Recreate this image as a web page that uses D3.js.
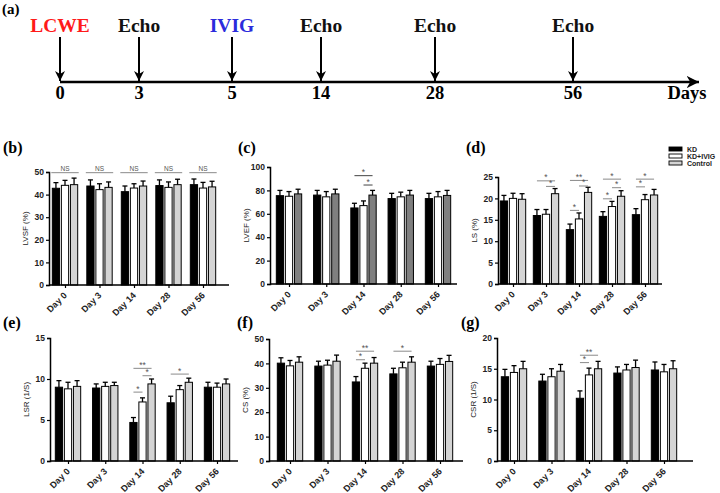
<!DOCTYPE html>
<html>
<head>
<meta charset="utf-8">
<script src="https://cdn.jsdelivr.net/npm/d3@7"></script>
<style>
  body { margin: 0; background: #fff; }
  svg { display: block; }
</style>
</head>
<body>
<svg id="chart" width="720" height="493" viewBox="0 0 720 493"></svg>
<script>
// ---- data ----
const days = ["Day 0", "Day 3", "Day 14", "Day 28", "Day 56"];
const groups = ["KD", "KD+IVIG", "Control"];

const tlDays = [0, 3, 5, 14, 28, 56];
const tlEvents = ["LCWE", "Echo", "IVIG", "Echo", "Echo", "Echo"];

// LVSF (%)
const lvsfKD = [42.8, 43.8, 41.3, 44.0, 44.4];
const lvsfIVIG = [44.1, 42.2, 42.9, 43.2, 42.9];
const lvsfCtrl = [44.4, 43.2, 43.8, 44.4, 43.4];
const lvsfErr = [[2.5, 2.7, 2.5, 2.5, 2.5], [2.2, 2.6, 1.9, 2.4, 2.5], [2.9, 2.4, 2.2, 2.4, 2.5]];
const lvsfSig = [[0, 0, 49.7, "NS", "NS"], [1, 0, 49.7, "NS", "NS"], [2, 0, 49.7, "NS", "NS"], [3, 0, 49.7, "NS", "NS"], [4, 0, 49.7, "NS", "NS"]];

// LVEF (%)
const lvefKD = [75.5, 76, 65, 73, 73];
const lvefIVIG = [75, 74.5, 67, 74.5, 74.5];
const lvefCtrl = [77, 77, 76, 76, 75.7];
const lvefErr = [[4.5, 4, 4, 4.5, 4.5], [4, 4.5, 4, 4, 4.5], [4, 4, 4, 4, 4.3]];
const lvefSig = [[2, 0, 92.6, "*"], [2, 1, 84.6, "*"]];

// LS (%)
const lsKD = [19.4, 16, 12.7, 15.8, 16.2];
const lsIVIG = [20, 16.3, 15.2, 18.1, 19.7];
const lsCtrl = [19.8, 21.1, 21.4, 20.5, 20.8];
const lsErr = [[1.3, 1.4, 1.3, 1.1, 1.4], [1.2, 1.1, 1.4, 1.2, 1.2], [1.3, 1.2, 1.2, 1.3, 1.3]];
const lsSig = [[1, 0, 24.1, "*"], [1, 1, 22.8, "*"],
  [2, 0, 24.2, "**"], [2, 1, 22.9, "*"], [2, 2, 17.2, "*"],
  [3, 0, 24.5, "*"], [3, 1, 22.5, "*"], [3, 2, 19.9, "*"],
  [4, 0, 24.5, "*"], [4, 2, 22.7, "*"]];

// LSR (1/S)
const lsrKD = [9, 8.9, 4.7, 7.1, 9];
const lsrIVIG = [8.8, 9.1, 7.2, 8.7, 9];
const lsrCtrl = [9.1, 9.2, 9.4, 9.6, 9.4];
const lsrErr = [[0.8, 0.5, 0.6, 0.8, 0.6], [0.8, 0.5, 0.5, 0.5, 0.5], [0.7, 0.4, 0.6, 0.5, 0.6]];
const lsrSig = [[2, 0, 11.3, "**"], [2, 1, 10.4, "*"], [2, 2, 8.4, "*"], [3, 0, 10.6, "*"]];

// CS (%)
const csKD = [40.1, 38.9, 32.4, 35.7, 38.9];
const csIVIG = [39, 39.3, 38, 38.2, 39.6];
const csCtrl = [40.5, 40.9, 40.1, 40.5, 40.8];
const csErr = [[2.2, 2, 2.2, 2.3, 2], [2.2, 2, 2.1, 2.3, 2.4], [2.2, 2.5, 2.3, 2.2, 2.5]];
const csSig = [[2, 0, 45, "**"], [2, 2, 41.5, "*"], [3, 0, 45, "*"]];

// CSR (1/S)
const csrKD = [13.7, 13, 10.2, 14.3, 14.8];
const csrIVIG = [14.4, 13.7, 14, 14.8, 14.5];
const csrCtrl = [15, 14.6, 15, 15.2, 15];
const csrErr = [[1.2, 1.1, 1.2, 1, 1.3], [1.1, 1.3, 1.1, 0.9, 1.2], [1.2, 1.1, 1.2, 1.2, 1.3]];
const csrSig = [[2, 0, 17.2, "**"], [2, 2, 16, "*"]];

// ---- drawing ----
const svg = d3.select("#chart");
const serif = "'Liberation Serif', 'Times New Roman', serif";
const sans = "'Liberation Sans', Arial, sans-serif";

// timeline (a)
const tx = d3.scaleLinear().domain(tlDays).range([60, 139, 232, 321, 435, 573]);
const axisY = 82;

svg.append("text").attr("x", 2).attr("y", 14)
  .attr("font-family", serif).attr("font-weight", "bold").attr("font-size", 15)
  .text("(a)");

svg.append("defs").append("marker")
  .attr("id", "ah").attr("viewBox", "0 0 10 10").attr("refX", 10).attr("refY", 5)
  .attr("markerWidth", 5).attr("markerHeight", 5).attr("markerUnits", "strokeWidth")
  .attr("orient", "auto")
  .append("path").attr("d", "M0,0 L10,5 L0,10 L3,5 Z").attr("fill", "#000");

svg.append("line").attr("x1", tx(0)).attr("x2", 699).attr("y1", axisY).attr("y2", axisY)
  .attr("stroke", "#000").attr("stroke-width", 2.5).attr("marker-end", "url(#ah)");

const evColor = { LCWE: "#ff1a1a", IVIG: "#2b2bdc", Echo: "#111" };
const ev = svg.append("g").selectAll("g").data(tlDays).join("g")
  .attr("transform", d => `translate(${tx(d)},0)`);
ev.append("line").attr("y1", 37).attr("y2", axisY - 1)
  .attr("stroke", "#000").attr("stroke-width", 2).attr("marker-end", "url(#ah)");
ev.append("text").attr("y", 32).attr("text-anchor", "middle")
  .attr("font-family", serif).attr("font-weight", "bold").attr("font-size", 19.5)
  .attr("fill", (d, i) => evColor[tlEvents[i]])
  .text((d, i) => tlEvents[i]);
ev.append("text").attr("y", 99).attr("text-anchor", "middle")
  .attr("font-family", serif).attr("font-weight", "bold").attr("font-size", 18.5)
  .text(d => d);
svg.append("text").attr("x", 687).attr("y", 99).attr("text-anchor", "middle")
  .attr("font-family", serif).attr("font-weight", "bold").attr("font-size", 18.5)
  .text("Days");

// bar panels
function panel(opt) {
  const { label, lx, ly, x0, xEnd, c0, c1, top, bottom, ymax, step, title, series, errs, sig, ctrlFill, sigColor } = opt;
  const g = svg.append("g");
  g.append("text").attr("x", lx).attr("y", ly)
    .attr("font-family", serif).attr("font-weight", "bold").attr("font-size", 16)
    .text(label);

  const x = d3.scalePoint().domain(days).range([c0, c1]);
  const sub = d3.scaleBand().domain(groups).range([-14.5, 14.5]).padding(0.2);
  const y = d3.scaleLinear().domain([0, ymax]).range([bottom, top]);
  const fills = ["#000", "#fff", ctrlFill];

  // bars
  groups.forEach((grp, gi) => {
    g.append("g").selectAll("rect").data(series[gi]).join("rect")
      .attr("x", (d, i) => x(days[i]) + sub(grp))
      .attr("width", sub.bandwidth())
      .attr("y", d => y(d))
      .attr("height", d => y(0) - y(d))
      .attr("fill", fills[gi]).attr("stroke", "#000").attr("stroke-width", 1);
    const eb = g.append("g").attr("stroke", "#000").attr("stroke-width", 1.3);
    series[gi].forEach((v, i) => {
      const cx = x(days[i]) + sub(grp) + sub.bandwidth() / 2;
      eb.append("line").attr("x1", cx).attr("x2", cx).attr("y1", y(v)).attr("y2", y(v + errs[gi][i]));
      eb.append("line").attr("x1", cx - 2.5).attr("x2", cx + 2.5).attr("y1", y(v + errs[gi][i])).attr("y2", y(v + errs[gi][i]));
    });
  });

  // significance
  const pairs = [[0, 2], [1, 2], [0, 1]];
  const sg = g.append("g");
  sig.forEach(s => {
    const [di, pi, v, txt, ns] = s;
    const xc = x(days[di]);
    let xa, xb;
    if (ns) {
      xa = xc + sub(groups[0]) - 1; xb = xc + sub(groups[2]) + sub.bandwidth() + 1;
    } else {
      const p = pairs[pi];
      xa = xc + sub(groups[p[0]]) + sub.bandwidth() / 2;
      xb = xc + sub(groups[p[1]]) + sub.bandwidth() / 2;
    }
    sg.append("line").attr("x1", xa).attr("x2", xb).attr("y1", y(v)).attr("y2", y(v))
      .attr("stroke", sigColor).attr("stroke-width", 1);
    sg.append("text").attr("x", (xa + xb) / 2).attr("y", y(v) - (ns ? 2 : 0.5))
      .attr("text-anchor", "middle").attr("font-family", sans)
      .attr("font-size", ns ? 6.5 : 8.5).attr("fill", "#555")
      .text(txt);
  });

  // axes
  const ya = g.append("g").attr("transform", `translate(${x0},0)`)
    .call(d3.axisLeft(y).tickValues(d3.range(0, ymax + step / 2, step)).tickSize(3).tickPadding(2));
  ya.select(".domain").attr("stroke-width", 1.5);
  ya.selectAll(".tick line").attr("stroke-width", 1.2);
  ya.selectAll(".tick text").attr("font-family", sans).attr("font-weight", "bold")
    .attr("font-size", 8.5).attr("fill", "#222");

  const xa = g.append("g").attr("transform", `translate(0,${bottom})`)
    .call(d3.axisBottom(x).tickSize(3).tickSizeOuter(0));
  xa.select(".domain").attr("d", `M${x0},0H${xEnd}`).attr("stroke-width", 1.5);
  xa.selectAll(".tick line").attr("stroke-width", 1.2);
  xa.selectAll(".tick text")
    .attr("font-family", sans).attr("font-weight", "bold").attr("font-size", 9).attr("fill", "#222")
    .attr("text-anchor", "end").attr("dy", 0).attr("x", 0).attr("y", 0)
    .attr("transform", "translate(2,11) rotate(-45)");

  g.append("text")
    .attr("transform", `translate(${x0 - 21},${(top + bottom) / 2}) rotate(-90)`)
    .attr("text-anchor", "middle").attr("font-family", sans).attr("font-size", 8).attr("fill", "#222")
    .text(title);
}

panel({ label: "(b)", lx: 3, ly: 153, x0: 49, xEnd: 229, c0: 65, c1: 203, top: 172, bottom: 285,
  ymax: 50, step: 10, title: "LVSF (%)", series: [lvsfKD, lvsfIVIG, lvsfCtrl], errs: lvsfErr, sig: lvsfSig, ctrlFill: "#d4d4d4", sigColor: "#8a8a8a" });
panel({ label: "(c)", lx: 238, ly: 153, x0: 270, xEnd: 457, c0: 289, c1: 438, top: 167, bottom: 284,
  ymax: 100, step: 20, title: "LVEF (%)", series: [lvefKD, lvefIVIG, lvefCtrl], errs: lvefErr, sig: lvefSig, ctrlFill: "#7f7f7f", sigColor: "#444" });
panel({ label: "(d)", lx: 466, ly: 153, x0: 498, xEnd: 662, c0: 513, c1: 645, top: 177, bottom: 284,
  ymax: 25, step: 5, title: "LS (%)", series: [lsKD, lsIVIG, lsCtrl], errs: lsErr, sig: lsSig, ctrlFill: "#d4d4d4", sigColor: "#8a8a8a" });
panel({ label: "(e)", lx: 3, ly: 328, x0: 50, xEnd: 238, c0: 68, c1: 217, top: 338, bottom: 461,
  ymax: 15, step: 5, title: "LSR (1/S)", series: [lsrKD, lsrIVIG, lsrCtrl], errs: lsrErr, sig: lsrSig, ctrlFill: "#d4d4d4", sigColor: "#8a8a8a" });
panel({ label: "(f)", lx: 237, ly: 328, x0: 269, xEnd: 463, c0: 290, c1: 440, top: 339, bottom: 461,
  ymax: 50, step: 10, title: "CS (%)", series: [csKD, csIVIG, csCtrl], errs: csErr, sig: csSig, ctrlFill: "#d4d4d4", sigColor: "#8a8a8a" });
panel({ label: "(g)", lx: 461, ly: 328, x0: 497, xEnd: 693, c0: 514, c1: 664, top: 338, bottom: 461,
  ymax: 20, step: 5, title: "CSR (1/S)", series: [csrKD, csrIVIG, csrCtrl], errs: csrErr, sig: csrSig, ctrlFill: "#d4d4d4", sigColor: "#8a8a8a" });

// legend
const legFills = ["#000", "#fff", "#d4d4d4"];
const leg = svg.append("g").selectAll("g").data(groups).join("g")
  .attr("transform", (d, i) => `translate(669,${147 + i * 7})`);
leg.append("rect").attr("width", 13).attr("height", 4)
  .attr("fill", (d, i) => legFills[i]).attr("stroke", "#000").attr("stroke-width", 0.9);
leg.append("text").attr("x", 18).attr("y", 4.5)
  .attr("font-family", sans).attr("font-weight", "bold").attr("font-size", 7).attr("fill", "#222")
  .text(d => d);
</script>
</body>
</html>
